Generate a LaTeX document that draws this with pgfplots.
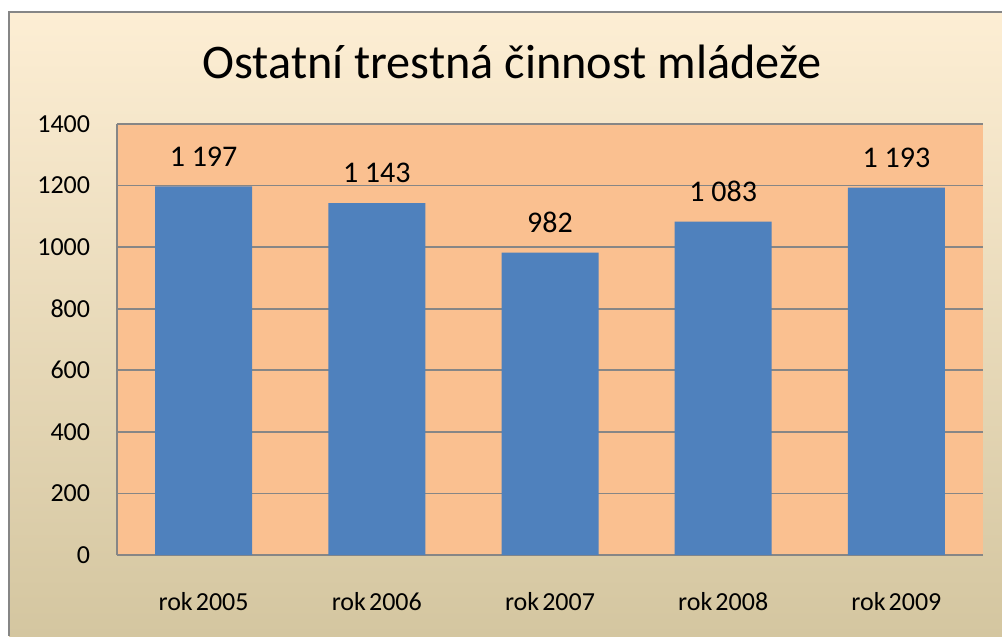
\documentclass[border=0pt]{standalone}
\usepackage{fontspec}
\setmainfont{Carlito}
\usepackage{pgfplots}
\pgfplotsset{compat=1.18}
\definecolor{bgtop}{RGB}{253,238,212}
\definecolor{bgmid}{RGB}{240,228,200}
\definecolor{bgbot}{RGB}{212,198,160}
\definecolor{plotbg}{RGB}{250,192,144}
\definecolor{barblue}{RGB}{79,129,189}
\definecolor{gridgray}{RGB}{134,134,134}
\begin{document}
\begin{tikzpicture}
\path[use as bounding box] (0pt,0pt) rectangle (751.5pt,477pt);
\fill[white] (0pt,0pt) rectangle (751.5pt,477pt);
\shade[top color=bgtop, middle color=bgmid, bottom color=bgbot] (6.75pt,0pt) rectangle (751.5pt,468pt);
\draw[gridgray, line width=1.2pt] (6.75pt,0pt) -- (6.75pt,468pt) -- (751.5pt,468pt);
\node[anchor=base, inner sep=0pt, font=\fontsize{36.2}{40}\selectfont] at (384pt,417.75pt) {Ostatní trestná činnost mládeže};
\begin{axis}[
  at={(87.75pt,60.75pt)}, anchor=south west,
  scale only axis, width=649.5pt, height=323.25pt,
  xmin=-0.5, xmax=4.5, ymin=0, ymax=1400,
  axis background/.style={fill=plotbg},
  axis lines*=left,
  axis line style={gridgray, line width=1.2pt},
  ymajorgrids, grid style={gridgray, line width=1.2pt},
  ytick={0,200,...,1400},
  xtick={0,1,2,3,4},
  xticklabels={rok\hspace{0.12em}2005,rok\hspace{0.12em}2006,rok\hspace{0.12em}2007,rok\hspace{0.12em}2008,rok\hspace{0.12em}2009},
  major tick length=0pt,
  /pgf/number format/assume math mode=true,
  yticklabel style={anchor=east, inner sep=0pt, xshift=-20pt, font=\fontsize{19.5}{22}\selectfont, /pgf/number format/1000 sep={}},
  xticklabel style={anchor=base, inner sep=0pt, yshift=-41.25pt, font=\fontsize{19.5}{22}\selectfont},
  ybar, bar width=72.75pt,
  nodes near coords,
  nodes near coords style={anchor=south, inner sep=0pt, yshift=15pt, font=\fontsize{22.5}{26}\selectfont, /pgf/number format/1000 sep={\ }},
  clip=false,
]
\addplot[fill=barblue, draw=none, bar shift=0pt] coordinates {(0,1197) (1,1143) (2,982) (3,1083) (4,1193)};
\end{axis}
\end{tikzpicture}
\end{document}
